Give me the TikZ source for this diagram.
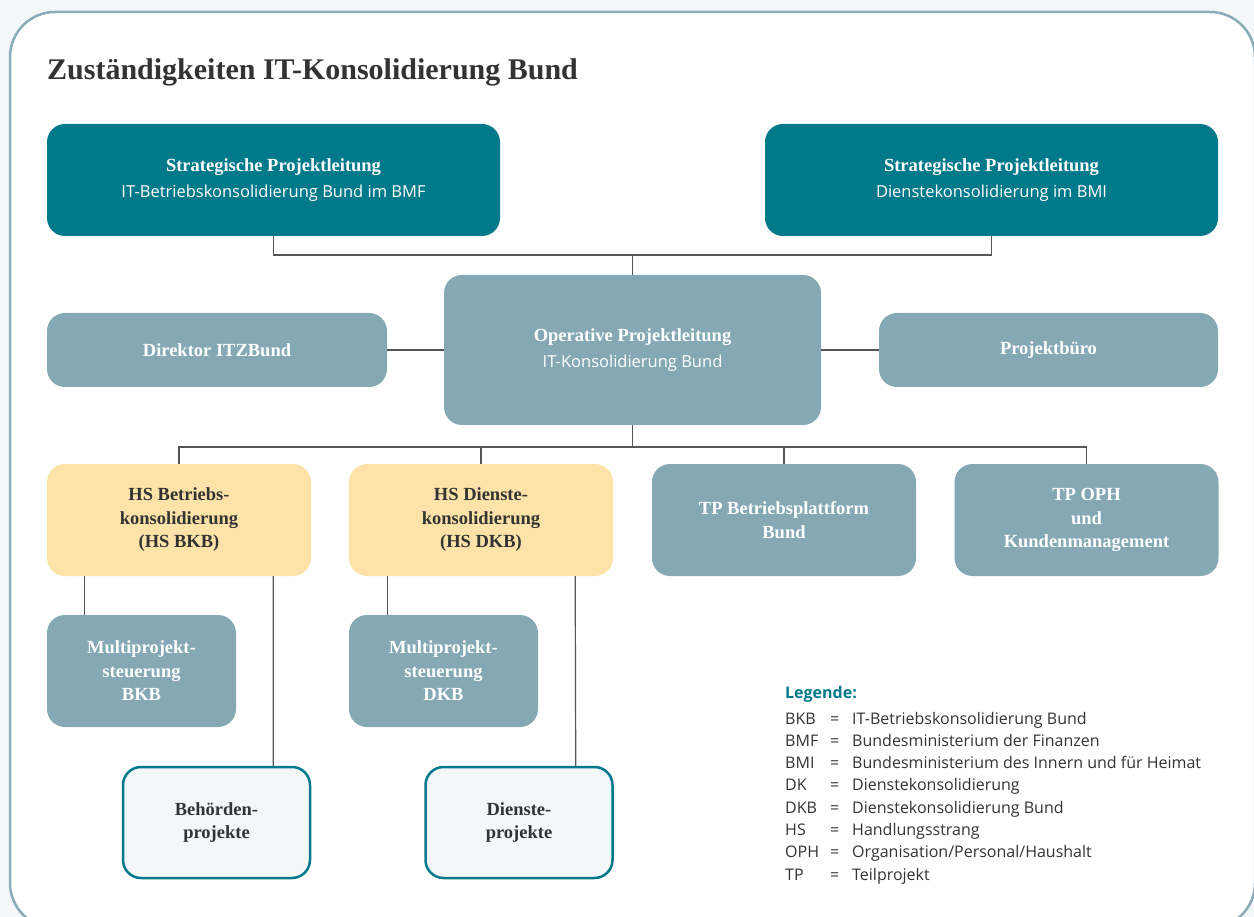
\documentclass[tikz,border=0pt]{standalone}
\usepackage{fontspec}
\setmainfont{Liberation Serif}
\setsansfont{Open Sans}
\usetikzlibrary{positioning}

\definecolor{petrol}{HTML}{00798A}
\definecolor{graublau}{HTML}{85A9B4}
\definecolor{gelb}{HTML}{FEE3A8}
\definecolor{hellgrau}{HTML}{F3F7FA}
\definecolor{rahmen}{HTML}{8AABB8}
\definecolor{linie}{HTML}{555555}
\definecolor{schrift}{HTML}{333333}

\newcommand{\zusatz}[1]{{\sffamily\mdseries\fontsize{16.5}{22}\selectfont #1}}

\tikzset{
  kasten/.style={rounded corners=18pt, align=center, inner sep=0pt,
    font=\fontsize{18.5}{23.5}\selectfont\bfseries},
  petrolkasten/.style={kasten, fill=petrol, text=white,
    minimum width=453pt, minimum height=112pt},
  graukasten/.style={kasten, fill=graublau, text=white},
  gelbkasten/.style={kasten, fill=gelb, text=schrift,
    minimum width=264pt, minimum height=112pt},
  projektkasten/.style={kasten, fill=hellgrau, draw=petrol, line width=2.5pt,
    text=schrift, minimum width=187pt, minimum height=111pt},
  verbindung/.style={draw=linie, line width=1.2pt}
}

\begin{document}
\begin{tikzpicture}[x=1pt,y=-1pt]
\useasboundingbox (0,0) rectangle (1254,917);
\fill [hellgrau] (0,0) rectangle (1254,917);
\draw [rahmen, line width=2.5pt, fill=white, rounded corners=45pt] (10,12) rectangle (1255,928);

% Titel
\node [anchor=base west, inner sep=0pt, text=schrift,
  font=\fontsize{30}{36}\selectfont\bfseries] (titel) at (47,80)
  {Zuständigkeiten IT-Konsolidierung Bund};

% strategische Ebene
\node [petrolkasten] (sp_bmf) at (273.5,180)
  {Strategische Projektleitung\\[3pt]\zusatz{IT-Betriebskonsolidierung Bund im BMF}};
\node [petrolkasten] (sp_bmi) at (991.5,180)
  {Strategische Projektleitung\\[3pt]\zusatz{Dienstekonsolidierung im BMI}};

% operative Ebene
\node [graukasten, minimum width=377pt, minimum height=150pt] (op) at (632.5,350)
  {Operative Projektleitung\\[2pt]\zusatz{IT-Konsolidierung Bund}};
\node [graukasten, minimum width=340pt, minimum height=74pt] (dir) at (217,350)
  {Direktor ITZBund};
\node [graukasten, minimum width=339pt, minimum height=74pt] (pb) at (1048.5,350)
  {Projektbüro};

% Handlungsstraenge und Teilprojekte
\node [gelbkasten] (hs_bkb) at (179,520) {HS Betriebs-\\konsolidierung\\(HS BKB)};
\node [gelbkasten] (hs_dkb) at (481,520) {HS Dienste-\\konsolidierung\\(HS DKB)};
\node [graukasten, minimum width=264pt, minimum height=112pt] (tp_bp) at (784,520)
  {TP Betriebsplattform\\Bund};
\node [graukasten, minimum width=264pt, minimum height=112pt] (tp_oph) at (1086.5,520)
  {TP OPH\\und\\Kundenmanagement};

% Multiprojektsteuerung
\node [graukasten, minimum width=189pt, minimum height=112pt] (mp_bkb) at (141.5,671)
  {Multiprojekt-\\steuerung\\BKB};
\node [graukasten, minimum width=189pt, minimum height=112pt] (mp_dkb) at (443.5,671)
  {Multiprojekt-\\steuerung\\DKB};

% Projekte
\node [projektkasten] (beh) at (216.5,822.5) {Behörden-\\projekte};
\node [projektkasten] (dien) at (519,822.5) {Dienste-\\projekte};

% Verbindungen
\coordinate (oben) at (632.5,255);
\coordinate (unten) at (632.5,447);
\draw [verbindung] (sp_bmf.south) |- (oben) -| (sp_bmi.south);
\draw [verbindung] (oben) -- (op.north);
\draw [verbindung] (dir.east) -- (op.west);
\draw [verbindung] (op.east) -- (pb.west);
\draw [verbindung] (op.south) -- (unten);
\draw [verbindung] (hs_bkb.north) |- (unten) -| (tp_oph.north);
\draw [verbindung] (hs_dkb.north) |- (unten);
\draw [verbindung] (tp_bp.north) |- (unten);
\draw [verbindung] ([xshift=38pt]hs_bkb.south west) -- ([xshift=38pt]mp_bkb.north west);
\draw [verbindung] ([xshift=-38pt]hs_bkb.south east) -- ([xshift=-38pt]beh.north east);
\draw [verbindung] ([xshift=39pt]hs_dkb.south west) -- ([xshift=39pt]mp_dkb.north west);
\draw [verbindung] ([xshift=-38pt]hs_dkb.south east) -- ([xshift=-38pt]dien.north east);

% Legende
\node [anchor=base west, inner sep=0pt, text=petrol,
  font=\sffamily\bfseries\fontsize{16}{22}\selectfont] (leg_titel) at (785,698) {Legende:};
\node [anchor=base west, inner sep=0pt, text=schrift,
  font=\sffamily\fontsize{16}{22.3}\selectfont] (legende) at (785,724)
  {\begin{tabular}[t]{@{}p{45pt}@{}p{22pt}@{}l@{}}
   BKB & = & IT-Betriebskonsolidierung Bund\\
   BMF & = & Bundesministerium der Finanzen\\
   BMI & = & Bundesministerium des Innern und für Heimat\\
   DK  & = & Dienstekonsolidierung\\
   DKB & = & Dienstekonsolidierung Bund\\
   HS  & = & Handlungsstrang\\
   OPH & = & Organisation/Personal/Haushalt\\
   TP  & = & Teilprojekt
   \end{tabular}};
\end{tikzpicture}
\end{document}
